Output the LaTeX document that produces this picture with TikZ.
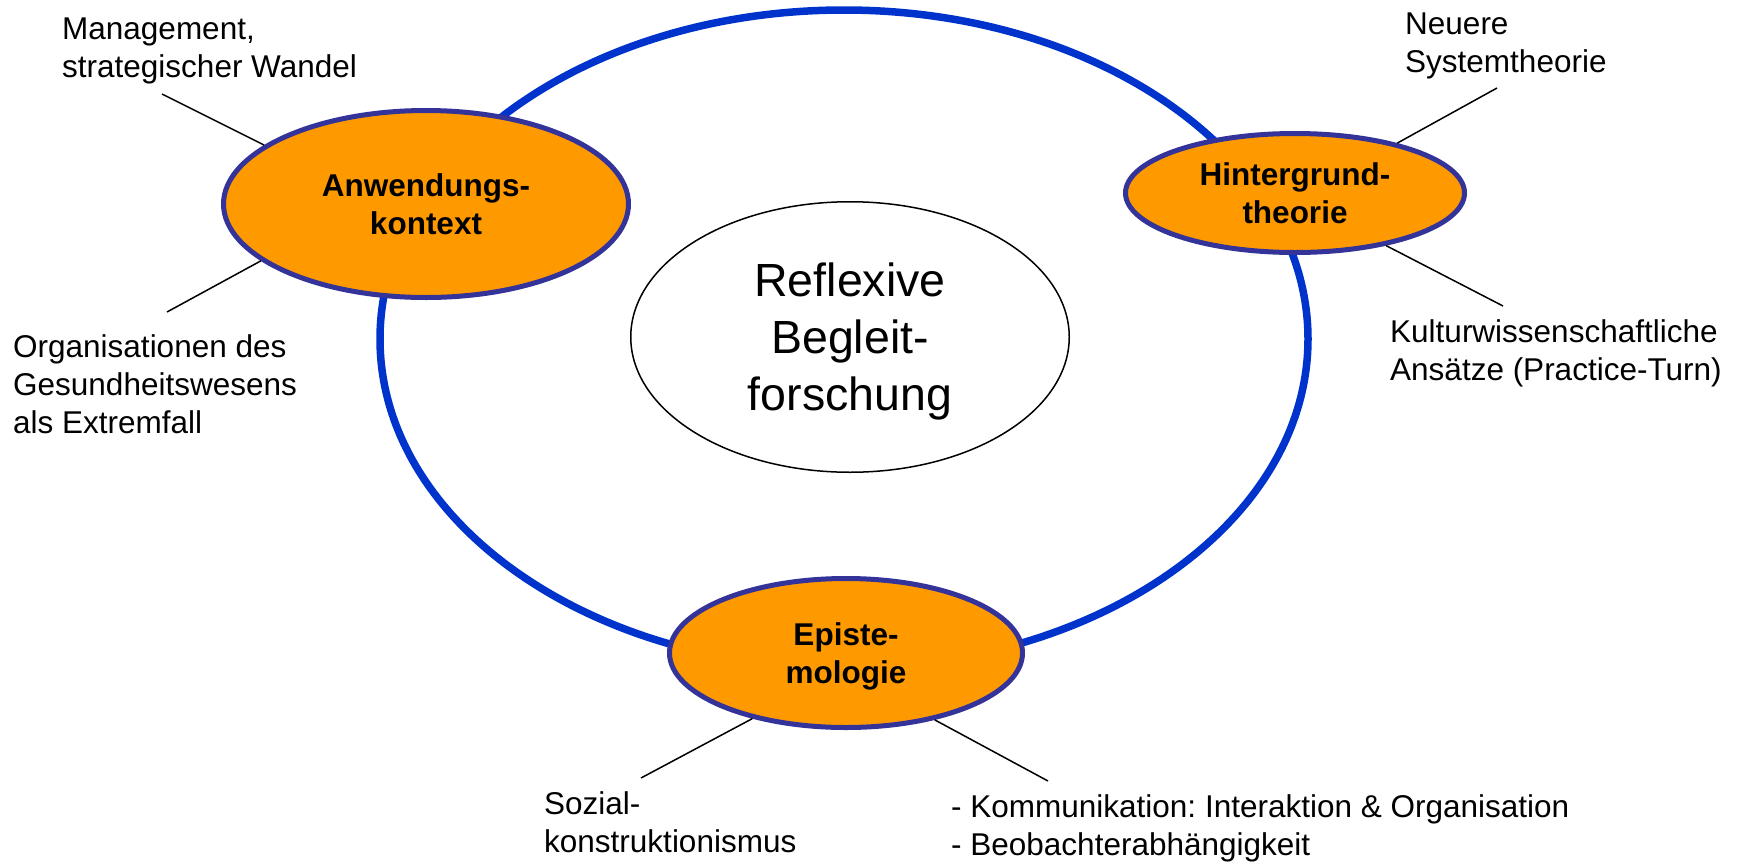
\documentclass[tikz,border=0pt]{standalone}
\usepackage{fontspec}
\setmainfont{Liberation Sans}
\usetikzlibrary{shapes.geometric}
\definecolor{ringblue}{HTML}{0033CC}
\definecolor{rimblue}{HTML}{333399}
\definecolor{fillorange}{HTML}{FF9900}
\frenchspacing
\begin{document}
\begin{tikzpicture}[x=1pt,y=-1pt,
  ring/.style={ellipse,draw=ringblue,line width=7.5pt,inner sep=0pt},
  topic/.style={ellipse,draw=rimblue,line width=5pt,fill=fillorange,inner sep=0pt,align=center,font=\fontsize{31.5pt}{38pt}\selectfont\bfseries,text depth=0pt},
  core/.style={ellipse,draw=black,line width=1.5pt,fill=white,inner sep=0pt,align=center,font=\fontsize{46.5pt}{57pt}\selectfont,text depth=0pt},
  note/.style={align=left,anchor=base west,inner sep=0pt,font=\fontsize{31.5pt}{38pt}\selectfont},
  lead/.style={draw=black,line width=1.5pt}]
\useasboundingbox (0,0) rectangle (1746,865);
% ring
\node[ring,minimum width=928pt,minimum height=658pt] (ring) at (844,339) {};
% centre
\node[core,minimum width=438.5pt,minimum height=270.5pt] (core) at (850,337) {Reflexive\\Begleit-\\forschung};
% topics
\node[topic,minimum width=405pt,minimum height=187pt] (anw) at (426,204) {Anwendungs-\\kontext};
\node[topic,minimum width=339pt,minimum height=119pt] (hin) at (1295,193) {Hintergrund-\\theorie};
\node[topic,minimum width=353pt,minimum height=149pt] (epi) at (846,653) {Episte-\\mologie};
% notes (anchor = baseline of the last line)
\node[note] (mgmt) at (62,77) {Management,\\strategischer Wandel};
\node[note] (org) at (13,433) {Organisationen des\\Gesundheitswesens\\als Extremfall};
\node[note] (sys) at (1405,72) {Neuere\\Systemtheorie};
\node[note] (kul) at (1390,380) {Kulturwissenschaftliche\\Ansätze (Practice-Turn)};
\node[note] (soz) at (544,852) {Sozial-\\konstruktionismus};
\node[note] (kom) at (951,855) {- Kommunikation: Interaktion \& Organisation\\- Beobachterabhängigkeit};
% leads
\coordinate (m1) at (162,94);
\coordinate (m2) at (167,312);
\coordinate (m3) at (1497,88);
\coordinate (m4) at (1503,306);
\coordinate (m5) at (641,778);
\coordinate (m6) at (1048,781);
\draw[lead] (m1) -- (anw.160.85);
\draw[lead] (m2) -- (anw.199.5);
\draw[lead] (m3) -- (hin.26.8);
\draw[lead] (m4) -- (hin.330.9);
\draw[lead] (m5) -- (epi.215.8);
\draw[lead] (m6) -- (epi.323.2);
\end{tikzpicture}
\end{document}
